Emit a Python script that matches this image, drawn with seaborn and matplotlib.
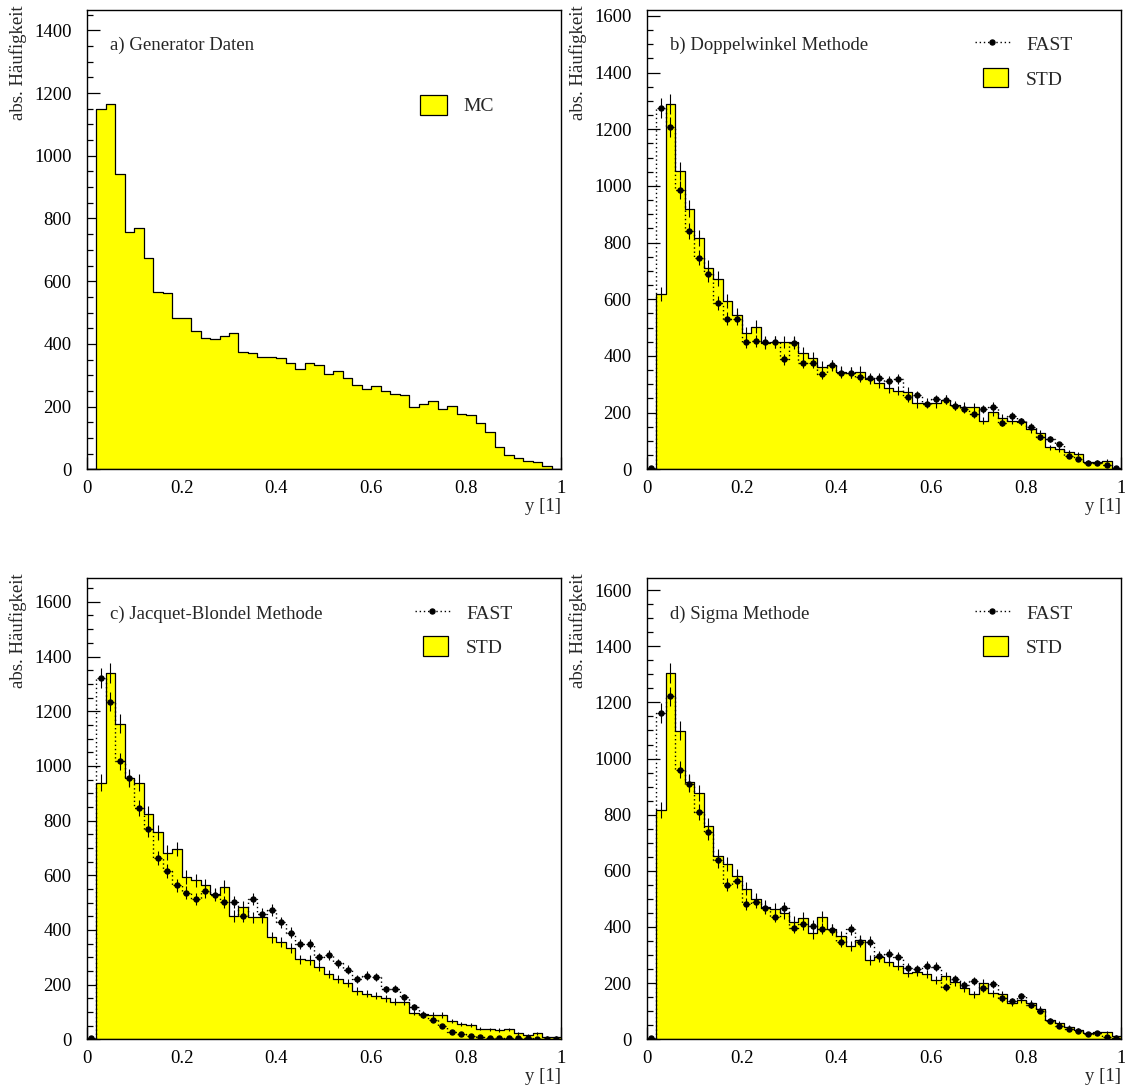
import numpy as np
import pandas as pd
import matplotlib
matplotlib.use("Agg")
import matplotlib.pyplot as plt
from matplotlib.patches import Rectangle
from matplotlib.ticker import MultipleLocator
import seaborn as sns

# 50 bins of width 0.02 in y
N_BINS = 50
bin_edges = np.round(np.linspace(0.0, 1.0, N_BINS + 1), 2)
bin_centers = 0.5 * (bin_edges[:-1] + bin_edges[1:])

# a) generator level Monte Carlo
mc_generator = [0, 1148, 1165, 942, 757, 771, 675, 567, 563, 482,
                484, 441, 418, 415, 426, 435, 375, 370, 359, 359,
                355, 340, 321, 338, 334, 304, 315, 290, 270, 255,
                266, 249, 241, 238, 198, 207, 219, 193, 203, 175,
                172, 147, 120, 70, 45, 36, 26, 22, 12, 2]

# b) double angle method
std_doppelwinkel = [0, 619, 1289, 1052, 920, 817, 712, 673, 594, 545,
                    480, 503, 445, 450, 450, 450, 410, 394, 362, 367,
                    345, 341, 345, 319, 304, 286, 278, 274, 233, 235,
                    233, 245, 226, 221, 219, 172, 203, 180, 172, 168,
                    141, 127, 78, 70, 62, 54, 27, 27, 30, 4]
fast_doppelwinkel = [4, 1274, 1209, 986, 842, 747, 688, 588, 531, 531,
                     448, 453, 448, 448, 388, 445, 376, 376, 336, 368,
                     341, 341, 327, 323, 323, 312, 319, 255, 261, 230,
                     247, 245, 223, 214, 195, 212, 221, 165, 189, 169,
                     150, 113, 106, 88, 47, 37, 23, 21, 15, 3]

# c) Jacquet-Blondel method
std_jacquet_blondel = [0, 939, 1339, 1154, 957, 939, 825, 757, 683, 696,
                       593, 582, 563, 531, 558, 452, 485, 446, 446, 373,
                       356, 333, 293, 290, 266, 238, 220, 205, 177, 166,
                       160, 150, 138, 137, 97, 93, 89, 89, 67, 57,
                       53, 39, 37, 34, 37, 22, 16, 22, 8, 8]
fast_jacquet_blondel = [4, 1321, 1235, 1016, 955, 846, 769, 664, 616, 563,
                        536, 514, 541, 527, 503, 501, 451, 512, 457, 472,
                        428, 390, 349, 349, 300, 308, 278, 254, 221, 233,
                        227, 183, 185, 154, 117, 89, 71, 50, 28, 20,
                        12, 8, 5, 4, 4, 3, 3, 2, 2, 2]

# d) sigma method
std_sigma = [0, 815, 1304, 1099, 915, 877, 761, 653, 625, 582,
             537, 499, 473, 463, 449, 418, 433, 378, 437, 392,
             368, 332, 354, 283, 294, 277, 262, 237, 241, 233,
             211, 226, 205, 182, 161, 202, 164, 161, 130, 140,
             128, 107, 69, 59, 43, 33, 21, 25, 25, 12]
fast_sigma = [4, 1162, 1221, 960, 910, 808, 738, 637, 550, 564,
              481, 488, 469, 437, 469, 398, 410, 404, 394, 390,
              348, 392, 348, 348, 298, 303, 294, 255, 250, 262,
              259, 187, 215, 194, 208, 182, 196, 146, 137, 154,
              121, 102, 65, 49, 36, 30, 18, 21, 9, 6]

panel_titles = ["a) Generator Daten", "b) Doppelwinkel Methode",
                "c) Jacquet-Blondel Methode", "d) Sigma Methode"]
y_upper = [1465, 1621, 1686, 1642]
y_tick_max = [1400, 1600, 1600, 1600]
x_tick_labels = ["0", "0.2", "0.4", "0.6", "0.8", "1"]

YELLOW = "#ffff00"
FS = 13.5
MS = 3.6

sns.set_style("white")
plt.rcParams["font.family"] = ["Liberation Serif", "DejaVu Serif"]

fig = plt.figure(figsize=(11.25, 10.88), dpi=100)
W, H = 1125.0, 1088.0
ax_w = 474.3 / W
positions = [
    (86.7 / W, 1 - 469.3 / H, ax_w, 459.3 / H),
    (646.7 / W, 1 - 469.3 / H, ax_w, 459.3 / H),
    (86.7 / W, 1 - 1039.3 / H, ax_w, 461.0 / H),
    (646.7 / W, 1 - 1039.3 / H, ax_w, 461.0 / H),
]
axes = [fig.add_axes(p) for p in positions]


def hist_frame(counts):
    return pd.DataFrame({"y": bin_centers, "n": np.asarray(counts, float)})


def draw_std(ax, counts, with_errors):
    df = hist_frame(counts)
    sns.histplot(data=df, x="y", weights="n", bins=N_BINS, binrange=(0, 1),
                 element="step", fill=True, color=YELLOW, alpha=1.0,
                 edgecolor="black", linewidth=0.9, ax=ax, zorder=1)
    if with_errors:
        m = df["n"] > 0
        ax.errorbar(df["y"][m], df["n"][m], yerr=np.sqrt(df["n"][m]),
                    fmt="none", ecolor="black", elinewidth=0.8,
                    capsize=0, zorder=3)


def draw_fast(ax, counts):
    df = hist_frame(counts)
    sns.histplot(data=df, x="y", weights="n", bins=N_BINS, binrange=(0, 1),
                 element="step", fill=False, color="black", alpha=1.0,
                 linestyle=(0, (1, 2)), linewidth=1.0, ax=ax, zorder=2)
    ax.errorbar(df["y"], df["n"], yerr=np.sqrt(df["n"]), xerr=0.008,
                fmt="o", ms=MS, color="black", ecolor="black",
                elinewidth=0.8, capsize=0, zorder=4)


def legend_patch(ax, x0, y0, w, h, text, tx, ty):
    ax.add_patch(Rectangle((x0, y0), w, h, transform=ax.transAxes,
                           facecolor=YELLOW, edgecolor="black",
                           linewidth=0.9, zorder=5))
    ax.text(tx, ty, text, transform=ax.transAxes, fontsize=FS + 0.5,
            ha="left", va="baseline", zorder=5)


def legend_fast(ax):
    ax.plot([0.692, 0.766], [0.930, 0.930], transform=ax.transAxes,
            linestyle=(0, (1, 2)), color="black", linewidth=1.0, zorder=5)
    ax.plot([0.729], [0.930], "o", ms=MS, color="black",
            transform=ax.transAxes, zorder=5)
    ax.text(0.800, 0.912, "FAST", transform=ax.transAxes,
            fontsize=FS + 0.5, ha="left", va="baseline", zorder=5)


data_std = [mc_generator, std_doppelwinkel, std_jacquet_blondel, std_sigma]
data_fast = [None, fast_doppelwinkel, fast_jacquet_blondel, fast_sigma]

for i, ax in enumerate(axes):
    draw_std(ax, data_std[i], with_errors=(i > 0))
    if data_fast[i] is not None:
        draw_fast(ax, data_fast[i])
        legend_fast(ax)
        legend_patch(ax, 0.709, 0.832, 0.053, 0.042, "STD", 0.800, 0.837)
    else:
        legend_patch(ax, 0.703, 0.771, 0.057, 0.044, "MC", 0.794, 0.780)

    ax.text(0.049, 0.912, panel_titles[i], transform=ax.transAxes,
            fontsize=FS, ha="left", va="baseline")

    ax.set_xlim(0, 1)
    ax.set_ylim(0, y_upper[i])
    ax.set_xticks(np.linspace(0, 1, 6))
    ax.set_xticklabels(x_tick_labels)
    ax.set_yticks(np.arange(0, y_tick_max[i] + 1, 200))
    ax.xaxis.set_minor_locator(MultipleLocator(0.05))
    ax.yaxis.set_minor_locator(MultipleLocator(50))
    ax.tick_params(which="both", direction="in", width=0.9, colors="black",
                   bottom=True, left=True, top=False, right=False,
                   labelsize=FS)
    ax.tick_params(which="major", length=9)
    ax.tick_params(which="minor", length=4.5)
    ax.tick_params(axis="y", which="major", pad=11)
    ax.tick_params(axis="x", which="major", pad=8)
    for s in ax.spines.values():
        s.set_color("black")
        s.set_linewidth(1.0)
    ax.set_ylabel("abs. Häufigkeit", fontsize=FS, loc="top")
    ax.yaxis.set_label_coords(-0.125, 1.01)
    ax.set_xlabel("y [1]", fontsize=FS, loc="right")
    ax.xaxis.set_label_coords(1.0, -0.062)
    ax.set_facecolor("white")

fig.savefig("out.png", dpi=100, facecolor="white")
